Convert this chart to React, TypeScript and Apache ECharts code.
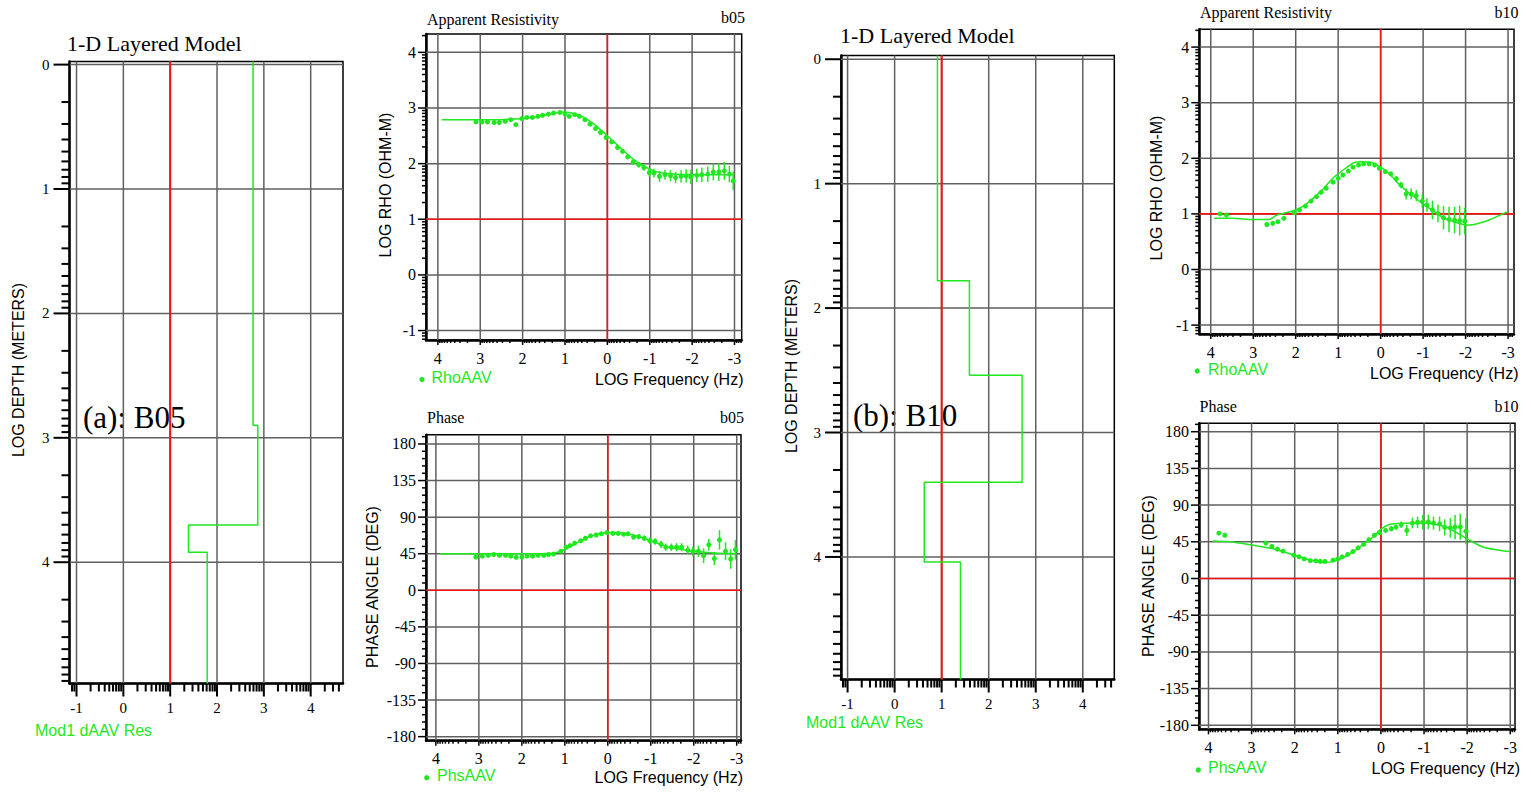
import React, { useEffect, useRef } from "react";
import * as echarts from "echarts";

// ---------- tick labels ----------
const MODEL_RES_TICKS = [-1, 0, 1, 2, 3, 4];
const MODEL_DEPTH_TICKS = [0, 1, 2, 3, 4];
const FREQ_TICKS = [4, 3, 2, 1, 0, -1, -2, -3];
const RHO_TICKS = [-1, 0, 1, 2, 3, 4];
const PHASE_TICKS = [-180, -135, -90, -45, 0, 45, 90, 135, 180];

// ---------- 1-D layered models (log resistivity per layer, log depth of interfaces) ----------
const B05_LAYER_RES = [2.77, 2.87, 1.39, 1.79];
const B05_LAYER_BOUNDS = [2.9, 3.7, 3.92];
const B10_LAYER_RES = [0.91, 1.59, 2.71, 0.63, 1.4];
const B10_LAYER_BOUNDS = [1.78, 2.54, 3.4, 4.04];

// ---------- b05 apparent resistivity ----------
const RHO_B05_FREQ = [3.1, 2.96, 2.83, 2.67, 2.55, 2.41, 2.28, 2.16, 2.02, 1.9, 1.77, 1.64, 1.53, 1.39, 1.27, 1.12, 1.0, 0.9, 0.77, 0.66, 0.53, 0.41, 0.28, 0.16, 0.03, -0.1, -0.24, -0.36, -0.48, -0.61, -0.74, -0.86, -0.99, -1.1, -1.23, -1.36, -1.49, -1.61, -1.74, -1.86, -1.97, -2.11, -2.23, -2.37, -2.5, -2.63, -2.76, -2.88, -2.97];
const RHO_B05_VAL = [2.75, 2.75, 2.75, 2.74, 2.74, 2.76, 2.79, 2.7, 2.81, 2.83, 2.83, 2.85, 2.87, 2.89, 2.91, 2.92, 2.89, 2.85, 2.88, 2.85, 2.79, 2.71, 2.63, 2.56, 2.47, 2.39, 2.29, 2.22, 2.12, 2.03, 1.98, 1.93, 1.84, 1.83, 1.77, 1.8, 1.78, 1.75, 1.77, 1.78, 1.76, 1.79, 1.8, 1.81, 1.85, 1.85, 1.87, 1.81, 1.69];
const RHO_B05_ERR = [0.015, 0.015, 0.015, 0.015, 0.015, 0.015, 0.015, 0.015, 0.015, 0.015, 0.015, 0.015, 0.015, 0.015, 0.015, 0.015, 0.015, 0.015, 0.015, 0.015, 0.015, 0.015, 0.015, 0.02, 0.025, 0.03, 0.03, 0.035, 0.04, 0.045, 0.05, 0.06, 0.075, 0.08, 0.1, 0.09, 0.1, 0.1, 0.11, 0.12, 0.13, 0.12, 0.13, 0.14, 0.15, 0.16, 0.16, 0.15, 0.17];
const RHO_B05_FIT_FREQ = [3.91, 3.0, 2.5, 2.2, 2.0, 1.7, 1.4, 1.2, 1.05, 0.9, 0.7, 0.5, 0.3, 0.1, -0.1, -0.3, -0.5, -0.7, -0.9, -1.1, -1.3, -1.6, -2.0, -2.5, -3.0];
const RHO_B05_FIT_VAL = [2.79, 2.79, 2.79, 2.8, 2.81, 2.84, 2.88, 2.91, 2.93, 2.92, 2.88, 2.81, 2.7, 2.57, 2.43, 2.29, 2.15, 2.03, 1.94, 1.87, 1.83, 1.81, 1.8, 1.8, 1.8];

// ---------- b05 phase ----------
const PHS_B05_FREQ = [3.07, 2.92, 2.78, 2.65, 2.52, 2.38, 2.26, 2.13, 2.0, 1.88, 1.75, 1.62, 1.49, 1.38, 1.26, 1.09, 0.97, 0.88, 0.77, 0.63, 0.52, 0.4, 0.27, 0.15, 0.02, -0.12, -0.24, -0.37, -0.47, -0.6, -0.72, -0.85, -0.98, -1.1, -1.24, -1.35, -1.48, -1.6, -1.72, -1.86, -1.98, -2.11, -2.23, -2.35, -2.48, -2.6, -2.74, -2.86, -2.97];
const PHS_B05_VAL = [41, 42, 43, 44, 43, 43, 42, 40.5, 41, 42, 42, 43, 43, 44, 44.6, 48, 53, 55, 58, 61, 64, 67, 68, 69.5, 71, 70, 70, 69, 69.5, 65.5, 66, 64, 61, 60, 56.5, 53, 53, 53, 53, 49.5, 48, 48, 42.6, 56, 39, 62, 48, 38.5, 50];
const PHS_B05_ERR = [1.5, 1.5, 1.5, 1.5, 1.5, 1.5, 1.5, 1.5, 1.5, 1.5, 1.5, 1.5, 1.5, 1.5, 1.5, 1.5, 1.5, 1.5, 1.5, 1.5, 1.5, 1.5, 1.5, 1.5, 1.5, 2, 2, 2.5, 2.5, 3, 3, 3.5, 4, 4, 4.5, 4.5, 4.5, 5, 5, 5.5, 6, 7, 9, 7, 8, 12, 11, 12, 12];
const PHS_B05_FIT_FREQ = [3.9, 3.0, 2.0, 1.5, 1.3, 1.1, 0.9, 0.7, 0.5, 0.3, 0.1, -0.1, -0.3, -0.5, -0.7, -0.9, -1.1, -1.3, -1.5, -1.8, -2.1, -2.5, -3.0];
const PHS_B05_FIT_VAL = [45, 45, 45, 45, 45.5, 48, 53, 59, 64.5, 68.5, 70.5, 71, 70.5, 69, 66.5, 62.5, 59, 55, 52, 49.5, 47.5, 45.8, 45];

// ---------- b10 apparent resistivity ----------
const RHO_B10_FREQ = [3.78, 3.63, 2.68, 2.54, 2.42, 2.28, 2.03, 1.91, 1.77, 1.64, 1.51, 1.4, 1.28, 1.12, 1.0, 0.89, 0.76, 0.65, 0.52, 0.4, 0.27, 0.14, 0.03, -0.11, -0.24, -0.37, -0.48, -0.6, -0.72, -0.84, -0.98, -1.09, -1.22, -1.35, -1.48, -1.61, -1.74, -1.86, -1.98];
const RHO_B10_VAL = [1.0, 0.98, 0.81, 0.83, 0.86, 0.92, 1.02, 1.07, 1.14, 1.23, 1.31, 1.39, 1.46, 1.57, 1.64, 1.7, 1.77, 1.84, 1.88, 1.9, 1.9, 1.88, 1.82, 1.76, 1.72, 1.63, 1.52, 1.36, 1.36, 1.33, 1.23, 1.16, 1.07, 1.01, 0.93, 0.9, 0.89, 0.88, 0.87];
const RHO_B10_ERR = [0.02, 0.02, 0.02, 0.02, 0.02, 0.02, 0.02, 0.02, 0.02, 0.02, 0.02, 0.02, 0.02, 0.02, 0.02, 0.02, 0.02, 0.02, 0.02, 0.02, 0.02, 0.02, 0.03, 0.03, 0.04, 0.05, 0.06, 0.1, 0.1, 0.1, 0.12, 0.12, 0.17, 0.16, 0.21, 0.23, 0.24, 0.27, 0.24];
const RHO_B10_FIT_FREQ = [3.92, 3.5, 2.99, 2.64, 2.44, 2.0, 1.73, 1.42, 1.1, 0.79, 0.6, 0.44, 0.24, 0.0, -0.19, -0.46, -0.7, -1.01, -1.25, -1.48, -1.72, -1.95, -2.11, -2.35, -2.58, -2.82, -2.99];
const RHO_B10_FIT_VAL = [0.92, 0.92, 0.9, 0.9, 0.98, 1.07, 1.19, 1.4, 1.66, 1.84, 1.93, 1.94, 1.93, 1.84, 1.73, 1.51, 1.36, 1.17, 1.05, 0.93, 0.86, 0.81, 0.8, 0.84, 0.9, 0.98, 1.04];

// ---------- b10 phase ----------
const PHS_B10_FREQ = [3.76, 3.62, 2.67, 2.53, 2.4, 2.27, 2.02, 1.9, 1.78, 1.64, 1.51, 1.41, 1.3, 1.11, 1.0, 0.9, 0.77, 0.65, 0.53, 0.4, 0.28, 0.15, 0.03, -0.11, -0.24, -0.35, -0.47, -0.6, -0.73, -0.85, -0.97, -1.1, -1.22, -1.36, -1.48, -1.61, -1.72, -1.84, -1.97];
const PHS_B10_VAL = [55.6, 53, 43.4, 39.3, 36, 33.5, 28.6, 26.6, 24, 22, 21.7, 21, 21, 22.5, 24, 26.6, 29.5, 33, 37.6, 42, 47.5, 53, 56, 59, 61, 63, 66, 59, 68, 69, 69, 69.5, 68, 67, 62.6, 62, 63, 63.4, 58];
const PHS_B10_ERR = [1.5, 1.5, 1.5, 1.5, 1.5, 1.5, 1.5, 1.5, 1.5, 1.5, 1.5, 1.5, 1.5, 1.5, 1.5, 1.5, 1.5, 1.5, 1.5, 1.5, 1.5, 1.5, 1.5, 2, 3, 3, 4, 7, 6.5, 7, 9, 9, 8, 9, 10, 12, 15, 16, 16];
const PHS_B10_FIT_FREQ = [3.9, 3.5, 3.0, 2.5, 2.0, 1.6, 1.33, 1.1, 0.9, 0.7, 0.48, 0.3, 0.17, 0.0, -0.18, -0.4, -0.7, -1.0, -1.3, -1.5, -1.7, -2.0, -2.35, -2.7, -3.0];
const PHS_B10_FIT_VAL = [46, 45, 41, 36.5, 28.5, 22, 19.5, 21, 25, 31, 39, 46.5, 51.5, 60.5, 66, 67.5, 68, 68, 66, 63.5, 58, 48.7, 39, 35, 33];

// ---------- styling ----------
const GREEN = "#1ee81e";
const RED = "#f01414";
const GRID_GRAY = "#606060";
const SERIF_FAMILY = "Liberation Serif";
const SERIF = '"Liberation Serif", "Times New Roman", serif';
const SANS = '"Liberation Sans", Arial, sans-serif';

type Kind = "model" | "rho" | "phase";
interface Panel {
  kind: Kind;
  left: number; top: number; width: number; height: number;
  xMin: number; xMax: number; xInverse: boolean;
  yMin: number; yMax: number; yInverse: boolean;
  xTicks: number[]; yTicks: number[];
}

const PANELS: Panel[] = [
  { kind: "model", left: 69.5, top: 61.5, width: 273.5, height: 622, xMin: -1.15, xMax: 4.69, xInverse: false, yMin: -0.025, yMax: 4.975, yInverse: true, xTicks: MODEL_RES_TICKS, yTicks: MODEL_DEPTH_TICKS },
  { kind: "model", left: 841, top: 55.5, width: 273.3, height: 624, xMin: -1.14, xMax: 4.67, xInverse: false, yMin: -0.03, yMax: 4.985, yInverse: true, xTicks: MODEL_RES_TICKS, yTicks: MODEL_DEPTH_TICKS },
  { kind: "rho", left: 426, top: 34, width: 315.7, height: 306, xMin: -3.17, xMax: 4.28, xInverse: true, yMin: -1.17, yMax: 4.33, yInverse: false, xTicks: FREQ_TICKS, yTicks: RHO_TICKS },
  { kind: "phase", left: 426, top: 434.7, width: 315, height: 306, xMin: -3.1, xMax: 4.23, xInverse: true, yMin: -185, yMax: 191.4, yInverse: false, xTicks: FREQ_TICKS, yTicks: PHASE_TICKS },
  { kind: "rho", left: 1199.3, top: 29.3, width: 314.7, height: 304.7, xMin: -3.14, xMax: 4.27, xInverse: true, yMin: -1.16, yMax: 4.32, yInverse: false, xTicks: FREQ_TICKS, yTicks: RHO_TICKS },
  { kind: "phase", left: 1199, top: 423.3, width: 316, height: 306, xMin: -3.11, xMax: 4.22, xInverse: true, yMin: -184.9, yMax: 190.3, yInverse: false, xTicks: FREQ_TICKS, yTicks: PHASE_TICKS },
];

function logMinors(a: number, b: number): number[] {
  const lo = Math.min(a, b), hi = Math.max(a, b);
  const out: number[] = [];
  for (let n = Math.floor(lo) - 1; n <= Math.ceil(hi); n++) {
    for (let k = 2; k <= 9; k++) {
      const v = n + Math.log10(k);
      if (v >= lo && v <= hi) out.push(v);
    }
  }
  return out;
}

function linMinors(a: number, b: number, step: number, majorStep: number): number[] {
  const out: number[] = [];
  for (let v = Math.ceil(a / step) * step; v <= b; v += step) {
    if (Math.abs(v / majorStep - Math.round(v / majorStep)) > 1e-6) out.push(v);
  }
  return out;
}

const STYLE = {
  model: { tickW: 2, xMajor: 13, xMinor: 8, yMajor: 16, yMinor: 8, fontSize: 15, xMargin: 17, yMargin: 20 },
  rho: { tickW: 1.5, xMajor: 5, xMinor: 3, yMajor: 8, yMinor: 4, fontSize: 16, xMargin: 10, yMargin: 10 },
  phase: { tickW: 1.5, xMajor: 5, xMinor: 3, yMajor: 8, yMinor: 4, fontSize: 16, xMargin: 10, yMargin: 10 },
};

// grid lines + tick marks (major & log/linear minor) drawn through the axis scales
function axisDecor(gi: number, p: Panel, axis: "x" | "y", majors: number[], minors: number[]) {
  const st = STYLE[p.kind];
  const data = majors.map((v) => [v, 1]).concat(minors.map((v) => [v, 0]));
  const xMid = (p.xMin + p.xMax) / 2;
  const yMid = (p.yMin + p.yMax) / 2;
  return {
    type: "custom",
    xAxisIndex: gi,
    yAxisIndex: gi,
    silent: true,
    z: 1,
    data,
    renderItem: (params: any, api: any) => {
      const cs = params.coordSys;
      const v = api.value(0) as number;
      const major = api.value(1) === 1;
      const children: any[] = [];
      if (axis === "x") {
        const px = api.coord([v, yMid])[0];
        const bottom = cs.y + cs.height;
        if (major) {
          children.push({ type: "line", shape: { x1: px, y1: cs.y, x2: px, y2: bottom }, style: { stroke: GRID_GRAY, lineWidth: 1.5 } });
        }
        children.push({ type: "line", shape: { x1: px, y1: bottom, x2: px, y2: bottom + (major ? st.xMajor : st.xMinor) }, style: { stroke: "#000", lineWidth: st.tickW } });
      } else {
        const py = api.coord([xMid, v])[1];
        const left = cs.x;
        if (major) {
          children.push({ type: "line", shape: { x1: left, y1: py, x2: left + cs.width, y2: py }, style: { stroke: GRID_GRAY, lineWidth: 1.5 } });
        }
        children.push({ type: "line", shape: { x1: left - (major ? st.yMajor : st.yMinor), y1: py, x2: left, y2: py }, style: { stroke: "#000", lineWidth: st.tickW } });
      }
      return { type: "group", children };
    },
  };
}

function redLines(gi: number, p: Panel, xs: number[], ys: number[], width: number) {
  const data = xs.map((v) => [v, 0]).concat(ys.map((v) => [v, 1]));
  const xMid = (p.xMin + p.xMax) / 2;
  const yMid = (p.yMin + p.yMax) / 2;
  return {
    type: "custom",
    xAxisIndex: gi,
    yAxisIndex: gi,
    silent: true,
    z: 2,
    data,
    renderItem: (params: any, api: any) => {
      const cs = params.coordSys;
      const v = api.value(0) as number;
      if (api.value(1) === 0) {
        const px = api.coord([v, yMid])[0];
        return { type: "line", shape: { x1: px, y1: cs.y, x2: px, y2: cs.y + cs.height }, style: { stroke: RED, lineWidth: width } };
      }
      const py = api.coord([xMid, v])[1];
      return { type: "line", shape: { x1: cs.x, y1: py, x2: cs.x + cs.width, y2: py }, style: { stroke: RED, lineWidth: width } };
    },
  };
}

function errorPoints(gi: number, f: number[], v: number[], e: number[]) {
  return {
    type: "custom",
    xAxisIndex: gi,
    yAxisIndex: gi,
    silent: true,
    z: 4,
    data: f.map((x, i) => [x, v[i], e[i]]),
    renderItem: (_params: any, api: any) => {
      const x = api.value(0), y = api.value(1), er = api.value(2);
      const c = api.coord([x, y]);
      const t = api.coord([x, y + er]);
      const b = api.coord([x, y - er]);
      return {
        type: "group",
        children: [
          { type: "line", shape: { x1: c[0], y1: t[1], x2: c[0], y2: b[1] }, style: { stroke: GREEN, lineWidth: 1.5 } },
          { type: "circle", shape: { cx: c[0], cy: c[1], r: 2.5 }, style: { fill: GREEN } },
        ],
      };
    },
  };
}

function fitLine(gi: number, f: number[], v: number[]) {
  return {
    type: "line",
    xAxisIndex: gi,
    yAxisIndex: gi,
    silent: true,
    z: 3,
    smooth: 0.3,
    showSymbol: false,
    symbol: "none",
    lineStyle: { color: GREEN, width: 1.5 },
    data: f.map((x, i) => [x, v[i]]),
  };
}

function stepModel(gi: number, p: Panel, res: number[], bounds: number[]) {
  const edges = [p.yMin, ...bounds, p.yMax];
  const pts: number[][] = [];
  res.forEach((r, i) => {
    pts.push([r, edges[i]]);
    pts.push([r, edges[i + 1]]);
  });
  return {
    type: "line",
    xAxisIndex: gi,
    yAxisIndex: gi,
    silent: true,
    z: 3,
    showSymbol: false,
    symbol: "none",
    lineStyle: { color: GREEN, width: 1.5 },
    data: pts,
  };
}

function txt(text: string, x: number, y: number, font: string, align = "left", fill = "#000", rotation = 0) {
  return { type: "text", x, y, rotation, silent: true, style: { text, font, fill, align, verticalAlign: "middle" } };
}
function dot(cx: number, cy: number) {
  return { type: "circle", silent: true, shape: { cx, cy, r: 2.6 }, style: { fill: GREEN } };
}

function buildOption() {
  const grid = PANELS.map((p) => ({
    left: p.left, top: p.top, width: p.width, height: p.height,
    show: true, borderColor: "#000", borderWidth: 1.5, backgroundColor: "rgba(0,0,0,0)",
  }));
  const axisBase = {
    type: "value",
    axisLine: { show: true, onZero: false, lineStyle: { color: "#000", width: 2.5 } },
    axisTick: { show: false },
    splitLine: { show: false },
  };
  const xAxis = PANELS.map((p, i) => ({
    ...axisBase, gridIndex: i, min: p.xMin, max: p.xMax, inverse: p.xInverse,
    axisLabel: {
      show: true, customValues: p.xTicks, color: "#000",
      fontFamily: SERIF_FAMILY, fontSize: STYLE[p.kind].fontSize, margin: STYLE[p.kind].xMargin,
    },
  }));
  const yAxis = PANELS.map((p, i) => ({
    ...axisBase, gridIndex: i, min: p.yMin, max: p.yMax, inverse: p.yInverse,
    axisLabel: {
      show: true, customValues: p.yTicks, color: "#000",
      fontFamily: SERIF_FAMILY, fontSize: STYLE[p.kind].fontSize, margin: STYLE[p.kind].yMargin,
    },
  }));

  const series: any[] = [];
  PANELS.forEach((p, i) => {
    const xMinor = logMinors(p.xMin, p.xMax);
    const yMinor = p.kind === "phase" ? linMinors(p.yMin, p.yMax, 9, 45) : logMinors(p.yMin, p.yMax);
    series.push(axisDecor(i, p, "x", p.xTicks, xMinor));
    series.push(axisDecor(i, p, "y", p.yTicks, yMinor));
    if (p.kind === "model") series.push(redLines(i, p, [1], [], 2));
    else if (p.kind === "rho") series.push(redLines(i, p, [0], [1], 1.6));
    else series.push(redLines(i, p, [0], [0], 1.6));
  });

  series.push(stepModel(0, PANELS[0], B05_LAYER_RES, B05_LAYER_BOUNDS));
  series.push(stepModel(1, PANELS[1], B10_LAYER_RES, B10_LAYER_BOUNDS));
  series.push(fitLine(2, RHO_B05_FIT_FREQ, RHO_B05_FIT_VAL));
  series.push(errorPoints(2, RHO_B05_FREQ, RHO_B05_VAL, RHO_B05_ERR));
  series.push(fitLine(3, PHS_B05_FIT_FREQ, PHS_B05_FIT_VAL));
  series.push(errorPoints(3, PHS_B05_FREQ, PHS_B05_VAL, PHS_B05_ERR));
  series.push(fitLine(4, RHO_B10_FIT_FREQ, RHO_B10_FIT_VAL));
  series.push(errorPoints(4, RHO_B10_FREQ, RHO_B10_VAL, RHO_B10_ERR));
  series.push(fitLine(5, PHS_B10_FIT_FREQ, PHS_B10_FIT_VAL));
  series.push(errorPoints(5, PHS_B10_FREQ, PHS_B10_VAL, PHS_B10_ERR));

  const R = Math.PI / 2;
  const graphic = [
    // model b05
    txt("1-D Layered Model", 67, 43, `22px ${SERIF}`),
    txt("(a): B05", 83, 417, `31px ${SERIF}`),
    txt("Mod1 dAAV Res", 35, 730, `16px ${SANS}`, "left", GREEN),
    txt("LOG DEPTH (METERS)", 18, 370, `16px ${SANS}`, "center", "#000", R),
    // model b10
    txt("1-D Layered Model", 840, 35, `22px ${SERIF}`),
    txt("(b): B10", 853, 415, `31px ${SERIF}`),
    txt("Mod1 dAAV Res", 806, 722, `16px ${SANS}`, "left", GREEN),
    txt("LOG DEPTH (METERS)", 791, 366, `16px ${SANS}`, "center", "#000", R),
    // rho b05
    txt("Apparent Resistivity", 427, 19, `16px ${SERIF}`),
    txt("b05", 745, 17, `16px ${SERIF}`, "right"),
    dot(422, 379.5),
    txt("RhoAAV", 431.5, 377.5, `16px ${SANS}`, "left", GREEN),
    txt("LOG Frequency (Hz)", 743.5, 379.5, `16px ${SANS}`, "right"),
    txt("LOG RHO (OHM-M)", 385.5, 185, `16px ${SANS}`, "center", "#000", R),
    // phase b05
    txt("Phase", 427, 417, `16px ${SERIF}`),
    txt("b05", 744, 417, `16px ${SERIF}`, "right"),
    dot(426.7, 777.7),
    txt("PhsAAV", 437, 775.7, `16px ${SANS}`, "left", GREEN),
    txt("LOG Frequency (Hz)", 743, 777.7, `16px ${SANS}`, "right"),
    txt("PHASE ANGLE (DEG)", 372.5, 587, `16px ${SANS}`, "center", "#000", R),
    // rho b10
    txt("Apparent Resistivity", 1200, 12.7, `16px ${SERIF}`),
    txt("b10", 1518.5, 12.7, `16px ${SERIF}`, "right"),
    dot(1197.3, 371),
    txt("RhoAAV", 1208, 369, `16px ${SANS}`, "left", GREEN),
    txt("LOG Frequency (Hz)", 1518.5, 373.3, `16px ${SANS}`, "right"),
    txt("LOG RHO (OHM-M)", 1156, 188, `16px ${SANS}`, "center", "#000", R),
    // phase b10
    txt("Phase", 1199.5, 406, `16px ${SERIF}`),
    txt("b10", 1518.5, 406, `16px ${SERIF}`, "right"),
    dot(1198.3, 770),
    txt("PhsAAV", 1208, 767.7, `16px ${SANS}`, "left", GREEN),
    txt("LOG Frequency (Hz)", 1520, 768.3, `16px ${SANS}`, "right"),
    txt("PHASE ANGLE (DEG)", 1148.3, 576, `16px ${SANS}`, "center", "#000", R),
  ];

  return {
    animation: false,
    backgroundColor: "#ffffff",
    grid,
    xAxis,
    yAxis,
    series,
    graphic,
  };
}

export default function App() {
  const ref = useRef<HTMLDivElement>(null);
  useEffect(() => {
    if (!ref.current) return;
    const chart = echarts.init(ref.current, undefined, { renderer: "svg" });
    chart.setOption(buildOption() as any);
    return () => chart.dispose();
  }, []);
  return (
    <div
      ref={ref}
      style={{ position: "fixed", left: 0, top: 0, width: 1531, height: 792, background: "#fff" }}
    />
  );
}
